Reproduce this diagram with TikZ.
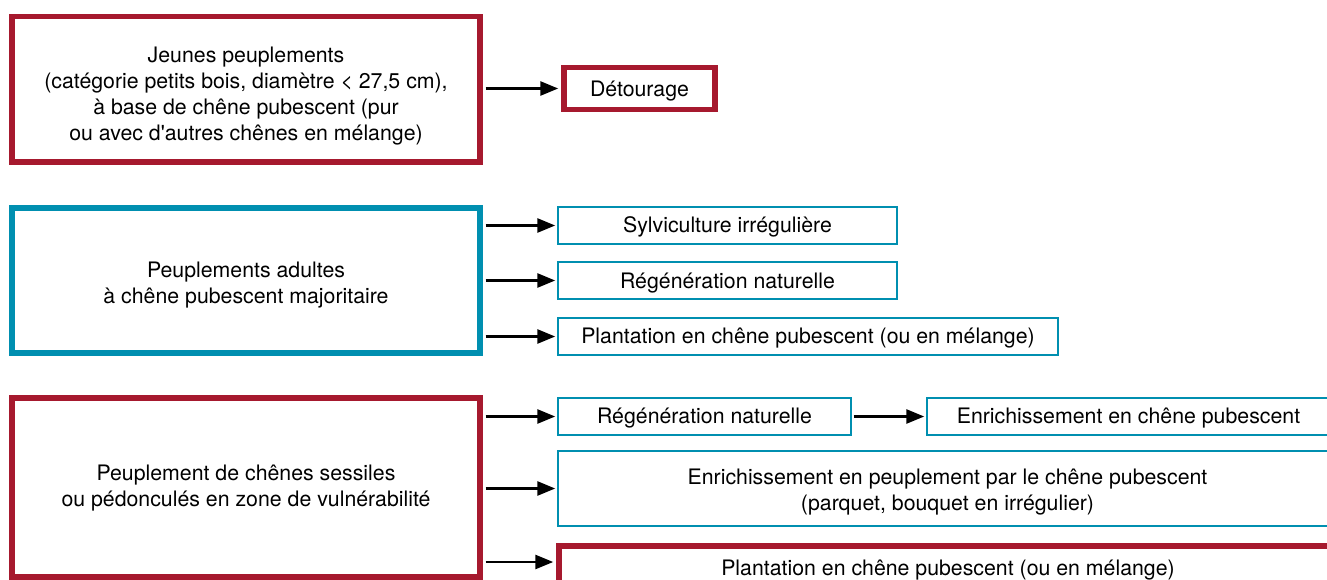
\documentclass[tikz,border=0pt]{standalone}
\usepackage{fontspec}
\setmainfont{TeX Gyre Heros}
\usetikzlibrary{arrows.meta}
\definecolor{cred}{RGB}{166,25,46}
\definecolor{cblue}{RGB}{0,143,176}
\newcommand{\shiftdown}[2]{\raisebox{-#1}[\height][\depth]{\begin{tabular}{@{}c@{}}#2\end{tabular}}}
\tikzset{
  bigred/.style={draw=cred, line width=5.5pt, fill=white, align=center, inner sep=0pt},
  bigblue/.style={draw=cblue, line width=5.5pt, fill=white, align=center, inner sep=0pt},
  thinblue/.style={draw=cblue, line width=2.5pt, fill=white, align=center, inner sep=0pt},
  conn/.style={line width=2.7pt, -{Triangle[length=18pt,width=14pt]}},
}
\begin{document}
\begin{tikzpicture}[x=1pt,y=-1pt, font=\fontsize{21.3}{26}\selectfont]
\path[use as bounding box, clip] (0,0) rectangle (1327,580);
% group 1
\node[bigred, minimum width=468pt, minimum height=145.5pt] (b1) at (246,89.25)
  {\shiftdown{7pt}{Jeunes peuplements\\(catégorie petits bois, diamètre < 27,5 cm),\\à base de chêne pubescent (pur\\ou avec d\textquotesingle autres chênes en mélange)}};
\node[bigred, minimum width=151pt, minimum height=42pt] (det) at (639.5,88.5) {\shiftdown{3pt}{Détourage}};
% group 2
\node[bigblue, minimum width=468pt, minimum height=145pt] (b2) at (246,280.5)
  {\shiftdown{5pt}{Peuplements adultes\\à chêne pubescent majoritaire}};
\node[thinblue, minimum width=339pt, minimum height=37pt] (s1) at (727.5,225.5) {\shiftdown{2pt}{Sylviculture irrégulière}};
\node[thinblue, minimum width=339pt, minimum height=37pt] (s2) at (727.5,280.5) {\shiftdown{2.5pt}{Régénération naturelle}};
\node[thinblue, minimum width=500pt, minimum height=37pt] (s3) at (808,336.5) {\shiftdown{2pt}{Plantation en chêne pubescent (ou en mélange)}};
% group 3
\node[bigred, minimum width=468pt, minimum height=179pt] (b3) at (246,487.5)
  {\shiftdown{1pt}{Peuplement de chênes sessiles\\ou pédonculés en zone de vulnérabilité}};
\node[thinblue, minimum width=293pt, minimum height=37pt] (t1) at (704.5,416.5) {\shiftdown{2pt}{Régénération naturelle}};
\node[thinblue, minimum width=403pt, minimum height=37pt] (t1b) at (1128.5,416.5) {\shiftdown{2pt}{Enrichissement en chêne pubescent}};
\node[thinblue, minimum width=779pt, minimum height=75pt] (t2) at (947.5,488.5)
  {\shiftdown{4pt}{Enrichissement en peuplement par le chêne pubescent\\(parquet, bouquet en irrégulier)}};
\node[bigred, minimum width=778pt, minimum height=46pt] (t3) at (948,569) {\shiftdown{1pt}{Plantation en chêne pubescent (ou en mélange)}};
% connectors
\draw[conn, shorten <=2.75pt, shorten >=3pt, yshift=-3pt] (b1.east |- det.west) -- (det.west);
\draw[conn, shorten <=2.75pt, shorten >=1.5pt] (b2.east |- s1.west) -- (s1.west);
\draw[conn, shorten <=2.75pt, shorten >=1.5pt] (b2.east |- s2.west) -- (s2.west);
\draw[conn, shorten <=2.75pt, shorten >=1.5pt] (b2.east |- s3.west) -- (s3.west);
\draw[conn, shorten <=2.75pt, shorten >=1.5pt, yshift=1.5pt] (b3.east |- t1.west) -- (t1.west);
\draw[conn, shorten <=1.25pt, shorten >=1.5pt, yshift=1.5pt] (t1.east) -- (t1b.west);
\draw[conn, shorten <=2.75pt, shorten >=1.5pt] (b3.east |- t2.west) -- (t2.west);
\draw[conn, shorten <=2.75pt, shorten >=3pt] (b3.east |- 0,562) coordinate (c3) -- (c3 -| t3.west);
\end{tikzpicture}
\end{document}
